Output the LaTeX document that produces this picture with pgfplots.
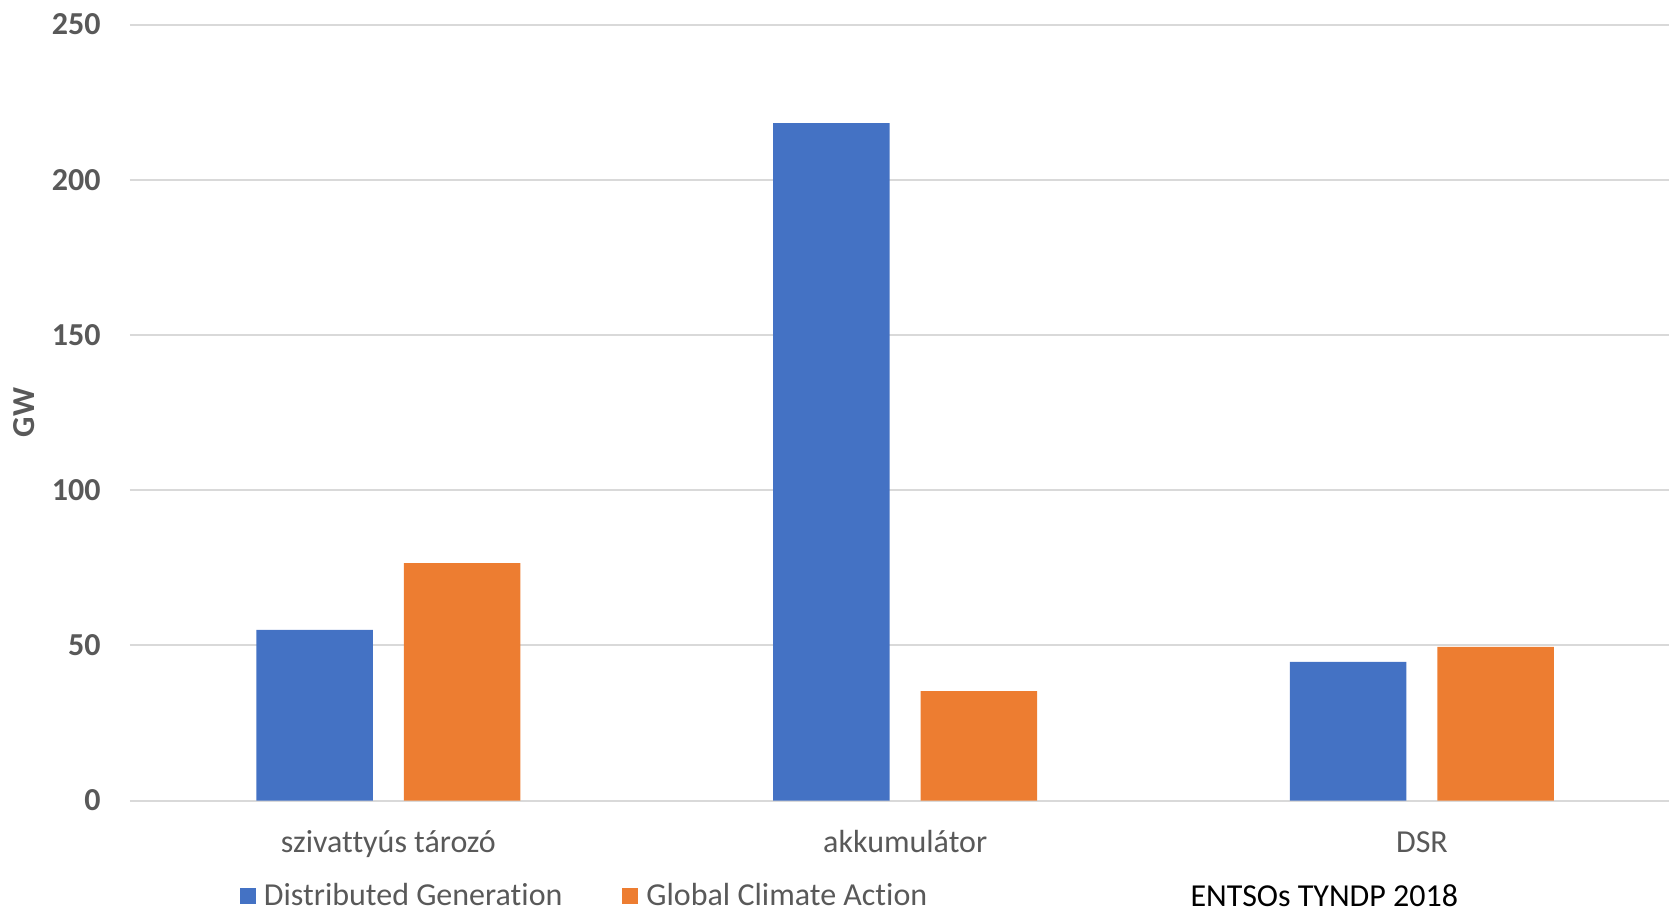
\documentclass[border=0pt]{standalone}
\usepackage{pgfplots}
\pgfplotsset{compat=1.18}
\usepackage{fontspec}
\setmainfont{Carlito}[Ligatures=NoCommon]
\definecolor{dgblue}{HTML}{4472C4}
\definecolor{gcaorange}{HTML}{ED7D31}
\definecolor{gridgray}{HTML}{D9D9D9}
\definecolor{txtgray}{HTML}{595959}
\begin{document}
\begin{tikzpicture}
\useasboundingbox (-65pt,-55.75pt) rectangle (769.5pt,400.25pt);
\begin{axis}[
  at={(0pt,0pt)}, anchor=south west, scale only axis,
  width=769.5pt, height=388pt,
  ymin=0, ymax=250, xmin=-0.5, xmax=2.478,
  clip=false,
  ybar=15.5pt, bar width=58.25pt,
  xtick={0,1,2}, xticklabels={szivattyús tározó, akkumulátor, DSR},
  ytick={0,50,100,150,200,250},
  axis line style={draw=none},
  tick style={draw=none},
  major tick length=0pt,
  ymajorgrids, grid style={gridgray, line width=1pt},
  /pgf/number format/assume math mode=true,
  yticklabel style={font=\fontsize{16}{19}\selectfont\bfseries, text=txtgray, anchor=east, inner sep=0pt, xshift=-14.5pt},
  xticklabel style={font=\fontsize{16}{19}\selectfont, text=txtgray, anchor=base, inner sep=0pt, yshift=-26pt},
  ylabel={GW},
  ylabel style={font=\fontsize{16}{19}\selectfont\bfseries, text=txtgray, at={(axis description cs:-0.0686,0.5)}, anchor=center},
  legend columns=2,
  legend style={at={(axis description cs:0.0712,-0.1225)}, anchor=west, draw=none, fill=none, inner sep=0pt,
    font=\fontsize{16}{19}\selectfont, text=txtgray,
    /tikz/every even column/.append style={column sep=28pt},
    nodes={inner xsep=2pt, inner ysep=0pt}},
  legend image code/.code={\fill[#1] (0pt,-4pt) rectangle (8pt,4pt);},
]
\addplot[fill=dgblue, draw=none] coordinates {(0,55.0) (1,218.2) (2,44.7)};
\addplot[fill=gcaorange, draw=none] coordinates {(0,76.5) (1,35.2) (2,49.5)};
\legend{\hspace{2pt}Distributed Generation, \hspace{2pt}Global Climate Action}
\node[anchor=base, font=\fontsize{16}{19}\selectfont, text=black, inner sep=0pt] at (axis description cs:0.776,-0.137) {ENTSOs TYNDP 2018};
\end{axis}
\end{tikzpicture}
\end{document}
